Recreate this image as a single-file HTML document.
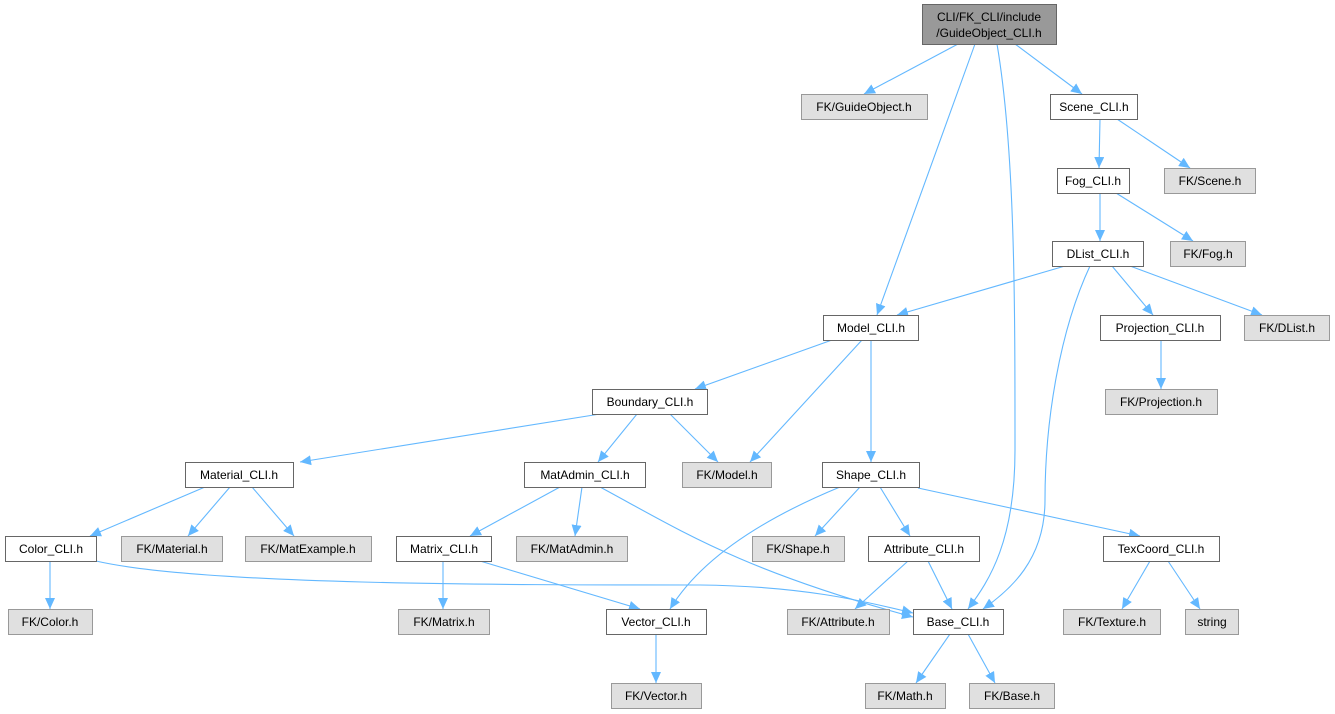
<!DOCTYPE html>
<html><head><meta charset="utf-8"><style>
html,body{margin:0;padding:0;background:#fff;}
svg{display:block;}
text{font-family:"Liberation Sans",Arial,sans-serif;font-size:12px;fill:#000;text-anchor:middle;}
.w{fill:#fff;stroke:#666;stroke-width:1;}
.g{fill:#e0e0e0;stroke:#999;stroke-width:1;}
.e{fill:none;stroke:#63b8ff;stroke-width:1.1;marker-end:url(#a);}
</style></head><body>
<svg width="1335" height="714" viewBox="0 0 1335 714" xmlns="http://www.w3.org/2000/svg">
<defs><marker id="a" markerWidth="12" markerHeight="10" refX="11" refY="5" orient="auto" markerUnits="userSpaceOnUse"><path d="M0,0 L11,5 L0,10 Z" fill="#63b8ff"/></marker></defs>
<path class="e" d="M958,44 L864,94"/>
<path class="e" d="M975,44 L877,315"/>
<path class="e" d="M997,44 C1015,150 1015,300 1015,450 C1015,540 990,580 968,609"/>
<path class="e" d="M1015,44 L1082,94"/>
<path class="e" d="M1100,119 L1099,168"/>
<path class="e" d="M1117,119 L1190,168"/>
<path class="e" d="M1100,193 L1100,241"/>
<path class="e" d="M1116,193 L1193,241"/>
<path class="e" d="M1065,266 L897,315"/>
<path class="e" d="M1112,266 L1153,315"/>
<path class="e" d="M1130,266 L1262,315"/>
<path class="e" d="M1090,266 C1060,330 1045,420 1045,500 C1045,560 1010,590 983,609"/>
<path class="e" d="M832,340 L695,389"/>
<path class="e" d="M862,340 L750,462"/>
<path class="e" d="M871,340 L871,462"/>
<path class="e" d="M1161,340 L1161,389"/>
<path class="e" d="M600,414 L300,462"/>
<path class="e" d="M637,414 L598,462"/>
<path class="e" d="M670,414 L718,462"/>
<path class="e" d="M205,487 L90,536"/>
<path class="e" d="M230,487 L188,536"/>
<path class="e" d="M252,487 L294,536"/>
<path class="e" d="M560,487 L470,536"/>
<path class="e" d="M582,487 L575,536"/>
<path class="e" d="M600,487 C680,530 740,570 913,617"/>
<path class="e" d="M840,487 C760,520 700,560 670,609"/>
<path class="e" d="M860,487 L815,536"/>
<path class="e" d="M880,487 L910,536"/>
<path class="e" d="M918,488 L1140,536"/>
<path class="e" d="M96,561 C200,585 500,585 700,585 C800,586 860,600 913,613"/>
<path class="e" d="M50,561 L50,609"/>
<path class="e" d="M443,561 L443,609"/>
<path class="e" d="M480,561 L640,609"/>
<path class="e" d="M908,561 L855,609"/>
<path class="e" d="M928,561 L952,609"/>
<path class="e" d="M1150,561 L1122,609"/>
<path class="e" d="M1168,561 L1200,609"/>
<path class="e" d="M656,634 L656,683"/>
<path class="e" d="M950,634 L916,683"/>
<path class="e" d="M968,634 L995,683"/>
<rect x="922.5" y="4.5" width="134" height="40" fill="#999" stroke="#666"/>
<text x="989" y="21">CLI/FK_CLI/include</text><text x="989" y="37">/GuideObject_CLI.h</text>
<g>
<rect class="g" x="801.5" y="94.5" width="126" height="25"/><text x="864" y="111">FK/GuideObject.h</text>
<rect class="w" x="1050.5" y="94.5" width="87" height="25"/><text x="1094" y="111">Scene_CLI.h</text>
<rect class="w" x="1057.5" y="168.5" width="72" height="25"/><text x="1093" y="185">Fog_CLI.h</text>
<rect class="g" x="1164.5" y="168.5" width="91" height="25"/><text x="1210" y="185">FK/Scene.h</text>
<rect class="w" x="1052.5" y="241.5" width="91" height="25"/><text x="1098" y="258">DList_CLI.h</text>
<rect class="g" x="1170.5" y="241.5" width="75" height="25"/><text x="1208" y="258">FK/Fog.h</text>
<rect class="w" x="823.5" y="315.5" width="95" height="25"/><text x="871" y="332">Model_CLI.h</text>
<rect class="w" x="1100.5" y="315.5" width="120" height="25"/><text x="1160" y="332">Projection_CLI.h</text>
<rect class="g" x="1244.5" y="315.5" width="85" height="25"/><text x="1287" y="332">FK/DList.h</text>
<rect class="g" x="1105.5" y="389.5" width="112" height="25"/><text x="1161" y="406">FK/Projection.h</text>
<rect class="w" x="592.5" y="389.5" width="115" height="25"/><text x="650" y="406">Boundary_CLI.h</text>
<rect class="w" x="185.5" y="462.5" width="108" height="25"/><text x="239" y="479">Material_CLI.h</text>
<rect class="w" x="524.5" y="462.5" width="121" height="25"/><text x="585" y="479">MatAdmin_CLI.h</text>
<rect class="g" x="682.5" y="462.5" width="89" height="25"/><text x="727" y="479">FK/Model.h</text>
<rect class="w" x="822.5" y="462.5" width="97" height="25"/><text x="871" y="479">Shape_CLI.h</text>
<rect class="w" x="5.5" y="536.5" width="91" height="25"/><text x="51" y="553">Color_CLI.h</text>
<rect class="g" x="121.5" y="536.5" width="101" height="25"/><text x="172" y="553">FK/Material.h</text>
<rect class="g" x="245.5" y="536.5" width="126" height="25"/><text x="308" y="553">FK/MatExample.h</text>
<rect class="w" x="396.5" y="536.5" width="95" height="25"/><text x="444" y="553">Matrix_CLI.h</text>
<rect class="g" x="516.5" y="536.5" width="111" height="25"/><text x="572" y="553">FK/MatAdmin.h</text>
<rect class="g" x="752.5" y="536.5" width="92" height="25"/><text x="798" y="553">FK/Shape.h</text>
<rect class="w" x="868.5" y="536.5" width="111" height="25"/><text x="924" y="553">Attribute_CLI.h</text>
<rect class="w" x="1103.5" y="536.5" width="116" height="25"/><text x="1161" y="553">TexCoord_CLI.h</text>
<rect class="g" x="8.5" y="609.5" width="84" height="25"/><text x="50" y="626">FK/Color.h</text>
<rect class="g" x="398.5" y="609.5" width="91" height="25"/><text x="444" y="626">FK/Matrix.h</text>
<rect class="w" x="606.5" y="609.5" width="100" height="25"/><text x="656" y="626">Vector_CLI.h</text>
<rect class="g" x="787.5" y="609.5" width="102" height="25"/><text x="838" y="626">FK/Attribute.h</text>
<rect class="w" x="913.5" y="609.5" width="90" height="25"/><text x="958" y="626">Base_CLI.h</text>
<rect class="g" x="1063.5" y="609.5" width="97" height="25"/><text x="1112" y="626">FK/Texture.h</text>
<rect class="g" x="1185.5" y="609.5" width="53" height="25"/><text x="1212" y="626">string</text>
<rect class="g" x="611.5" y="683.5" width="90" height="25"/><text x="656" y="700">FK/Vector.h</text>
<rect class="g" x="865.5" y="683.5" width="80" height="25"/><text x="905" y="700">FK/Math.h</text>
<rect class="g" x="969.5" y="683.5" width="85" height="25"/><text x="1012" y="700">FK/Base.h</text>
</g>
</svg>
</body></html>
